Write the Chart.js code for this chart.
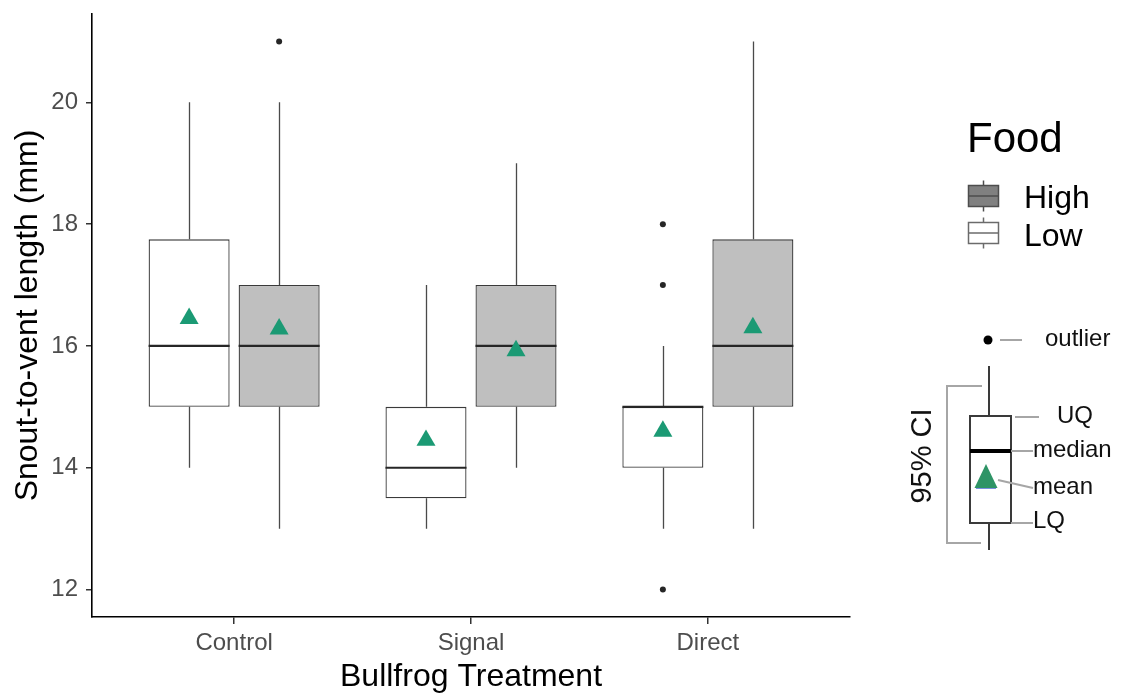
<!DOCTYPE html>
<html>
<head>
<meta charset="utf-8">
<script src="https://cdn.jsdelivr.net/npm/chart.js@4/dist/chart.umd.min.js"></script>
<style>
  html, body { margin: 0; padding: 0; background: #ffffff; }
  canvas { display: block; }
</style>
</head>
<body>
<canvas id="svl" width="1125" height="696"></canvas>
<script>
// Snout-to-vent length by bullfrog treatment and food level
const treatments = ['Control', 'Signal', 'Direct'];
const yTicks = [12, 14, 16, 18, 20];

// Low food
const lowMin = [14, 13, 13];
const lowQ1 = [15, 13.5, 14];
const lowMedian = [16, 14, 15];
const lowQ3 = [17.75, 15, 15];
const lowMax = [20, 17, 16];
const lowMean = [16.45, 14.45, 14.6];
const lowOutliers = [[], [], [18, 17, 12]];

// High food
const highMin = [13, 14, 13];
const highQ1 = [15, 15, 15];
const highMedian = [16, 16, 16];
const highQ3 = [17, 17, 17.75];
const highMax = [20, 19, 21];
const highMean = [16.28, 15.92, 16.3];
const highOutliers = [[21], [], []];

const FONT = "'Liberation Sans', Arial, Helvetica, sans-serif";
const MEAN_COLOR = '#1b9a74';

function boxData(q1, q3) {
  return treatments.map((t, i) => ({ x: i + 1, y: [q1[i], q3[i]] }));
}

// whiskers, medians, outliers and mean markers for each box
const boxParts = {
  id: 'boxParts',
  beforeDatasetsDraw(chart) {
    const ctx = chart.ctx;
    const ys = chart.scales.y;
    chart.data.datasets.forEach((ds, d) => {
      const meta = chart.getDatasetMeta(d);
      meta.data.forEach((bar, i) => {
        const x = Math.round(bar.x) + 0.5;
        ctx.save();
        ctx.strokeStyle = '#4a4a4a';
        ctx.lineWidth = 1.3;
        ctx.beginPath();
        ctx.moveTo(x, ys.getPixelForValue(ds.stats.max[i]));
        ctx.lineTo(x, ys.getPixelForValue(ds.stats.q3[i]));
        ctx.moveTo(x, ys.getPixelForValue(ds.stats.q1[i]));
        ctx.lineTo(x, ys.getPixelForValue(ds.stats.min[i]));
        ctx.stroke();
        ctx.restore();
      });
    });
  },
  afterDatasetsDraw(chart) {
    const ctx = chart.ctx;
    const ys = chart.scales.y;
    chart.data.datasets.forEach((ds, d) => {
      const meta = chart.getDatasetMeta(d);
      meta.data.forEach((bar, i) => {
        const half = bar.width / 2;
        const x = bar.x;
        ctx.save();
        // median
        const my = ys.getPixelForValue(ds.stats.median[i]);
        ctx.strokeStyle = '#262626';
        ctx.lineWidth = 2.2;
        ctx.beginPath();
        ctx.moveTo(x - half, my);
        ctx.lineTo(x + half, my);
        ctx.stroke();
        // outliers
        ctx.fillStyle = '#262626';
        ds.stats.outliers[i].forEach(v => {
          ctx.beginPath();
          ctx.arc(x, ys.getPixelForValue(v), 3, 0, Math.PI * 2);
          ctx.fill();
        });
        // mean (triangle centred on its centroid)
        const cy = ys.getPixelForValue(ds.stats.mean[i]);
        const side = 19;
        const h = side * Math.sqrt(3) / 2;
        ctx.fillStyle = MEAN_COLOR;
        ctx.beginPath();
        ctx.moveTo(x, cy - h * 2 / 3);
        ctx.lineTo(x + side / 2, cy + h / 3);
        ctx.lineTo(x - side / 2, cy + h / 3);
        ctx.closePath();
        ctx.fill();
        ctx.restore();
      });
    });
  }
};

function seg(ctx, x1, y1, x2, y2, color, w) {
  ctx.strokeStyle = color;
  ctx.lineWidth = w;
  ctx.beginPath();
  ctx.moveTo(x1, y1);
  ctx.lineTo(x2, y2);
  ctx.stroke();
}

function legendKey(ctx, x, y, fill, stroke) {
  // small box-and-whisker glyph, x/y = top-left of the key box
  const w = 30, h = 21;
  seg(ctx, x + w / 2, y - 5, x + w / 2, y + h + 5, stroke, 1.5);
  ctx.fillStyle = fill;
  ctx.fillRect(x, y, w, h);
  ctx.strokeStyle = stroke;
  ctx.lineWidth = 1.5;
  ctx.strokeRect(x, y, w, h);
  seg(ctx, x, y + h / 2, x + w, y + h / 2, stroke, 1.5);
}

// "Food" legend and the box anatomy guide on the right-hand side
const sidePanel = {
  id: 'sidePanel',
  afterDraw(chart) {
    const ctx = chart.ctx;
    ctx.save();
    ctx.textBaseline = 'alphabetic';
    ctx.textAlign = 'left';
    ctx.fillStyle = '#000';
    ctx.font = `42px ${FONT}`;
    ctx.fillText('Food', 967, 152);

    legendKey(ctx, 968.5, 185.5, '#808080', '#4d4d4d');
    legendKey(ctx, 968.5, 222.5, '#ffffff', '#6b6b6b');
    ctx.fillStyle = '#000';
    ctx.font = `32px ${FONT}`;
    ctx.fillText('High', 1024, 208);
    ctx.fillText('Low', 1024, 246);

    // anatomy guide
    const lead = '#a6a6a6';
    ctx.fillStyle = '#000';
    ctx.beginPath();
    ctx.arc(988, 340, 4.5, 0, Math.PI * 2);
    ctx.fill();
    seg(ctx, 1000, 340, 1022, 340, lead, 2);

    seg(ctx, 989, 366, 989, 416, '#3a3a3a', 2);
    seg(ctx, 989, 523, 989, 550, '#3a3a3a', 2);
    ctx.fillStyle = '#fff';
    ctx.fillRect(970, 416, 41, 107);
    ctx.strokeStyle = '#3a3a3a';
    ctx.lineWidth = 2;
    ctx.strokeRect(970, 416, 41, 107);
    seg(ctx, 970, 451, 1011, 451, '#000', 4);

    ctx.fillStyle = '#2e9466';
    ctx.beginPath();
    ctx.moveTo(986, 464);
    ctx.lineTo(997.5, 488);
    ctx.lineTo(974.5, 488);
    ctx.closePath();
    ctx.fill();
    seg(ctx, 976, 488.5, 996, 488.5, '#7b8fe0', 1);

    // confidence bracket
    ctx.strokeStyle = lead;
    ctx.lineWidth = 2;
    ctx.beginPath();
    ctx.moveTo(982, 386);
    ctx.lineTo(947, 386);
    ctx.lineTo(947, 543);
    ctx.lineTo(981, 543);
    ctx.stroke();

    seg(ctx, 1015, 417, 1039, 417, lead, 2);
    seg(ctx, 1011, 451, 1033, 451, lead, 2);
    seg(ctx, 998, 480, 1033, 488, lead, 2);
    seg(ctx, 1011, 523, 1033, 523, lead, 2);

    ctx.fillStyle = '#111';
    ctx.font = `24px ${FONT}`;
    ctx.textBaseline = 'middle';
    ctx.fillText('outlier', 1045, 339);
    ctx.fillText('UQ', 1057, 416);
    ctx.fillText('median', 1033, 450);
    ctx.fillText('mean', 1033, 487);
    ctx.fillText('LQ', 1033, 521);

    ctx.save();
    ctx.translate(923, 456);
    ctx.rotate(-Math.PI / 2);
    ctx.textAlign = 'center';
    ctx.font = `29px ${FONT}`;
    ctx.fillText('95% CI', 0, 0);
    ctx.restore();

    ctx.restore();
  }
};

const datasets = [
  {
    label: 'Low',
    data: boxData(lowQ1, lowQ3),
    backgroundColor: '#ffffff',
    borderColor: '#3a3a3a',
    stats: { min: lowMin, q1: lowQ1, median: lowMedian, q3: lowQ3, max: lowMax, mean: lowMean, outliers: lowOutliers }
  },
  {
    label: 'High',
    data: boxData(highQ1, highQ3),
    backgroundColor: '#bfbfbf',
    borderColor: '#3a3a3a',
    stats: { min: highMin, q1: highQ1, median: highMedian, q3: highQ3, max: highMax, mean: highMean, outliers: highOutliers }
  }
];

new Chart(document.getElementById('svl'), {
  type: 'bar',
  data: { datasets },
  plugins: [boxParts, sidePanel],
  options: {
    responsive: false,
    animation: false,
    devicePixelRatio: 1,
    layout: { padding: { top: 14, right: 275, left: 0, bottom: 0 } },
    datasets: {
      bar: {
        categoryPercentage: 0.76,
        barPercentage: 0.9,
        borderWidth: 1.3,
        borderSkipped: false
      }
    },
    plugins: {
      legend: { display: false },
      tooltip: { enabled: false }
    },
    scales: {
      x: {
        type: 'linear',
        min: 0.4,
        max: 3.6,
        offset: false,
        afterBuildTicks(scale) { scale.ticks = treatments.map((t, i) => ({ value: i + 1 })); },
        afterFit(scale) {
          scale.height = 79;
          scale.paddingLeft = 0;
          scale.paddingRight = 0;
        },
        ticks: {
          callback: (v) => treatments[v - 1] || '',
          font: { family: FONT, size: 24 },
          color: '#4d4d4d',
          padding: 5,
          maxRotation: 0
        },
        grid: { offset: false, drawOnChartArea: false, drawTicks: true, tickLength: 7, color: '#333', lineWidth: 1.5 },
        border: { display: true, color: '#000', width: 1.6 },
        title: {
          display: true,
          text: 'Bullfrog Treatment',
          color: '#000',
          font: { family: FONT, size: 32, lineHeight: 1 },
          padding: { top: 0, bottom: 3 }
        }
      },
      y: {
        type: 'linear',
        min: 11.55,
        max: 21.45,
        afterBuildTicks(scale) { scale.ticks = yTicks.map(v => ({ value: v })); },
        afterFit(scale) {
          scale.width = 92;
          scale.paddingTop = 0;
          scale.paddingBottom = 0;
        },
        ticks: {
          font: { family: FONT, size: 24 },
          color: '#4d4d4d',
          padding: 8
        },
        grid: { drawOnChartArea: false, drawTicks: true, tickLength: 6, color: '#333', lineWidth: 1.5 },
        border: { display: true, color: '#000', width: 1.6 },
        title: {
          display: true,
          text: 'Snout-to-vent length (mm)',
          color: '#000',
          font: { family: FONT, size: 32, lineHeight: 1 },
          padding: { top: 12, bottom: 0 }
        }
      }
    }
  }
});
</script>
</body>
</html>
